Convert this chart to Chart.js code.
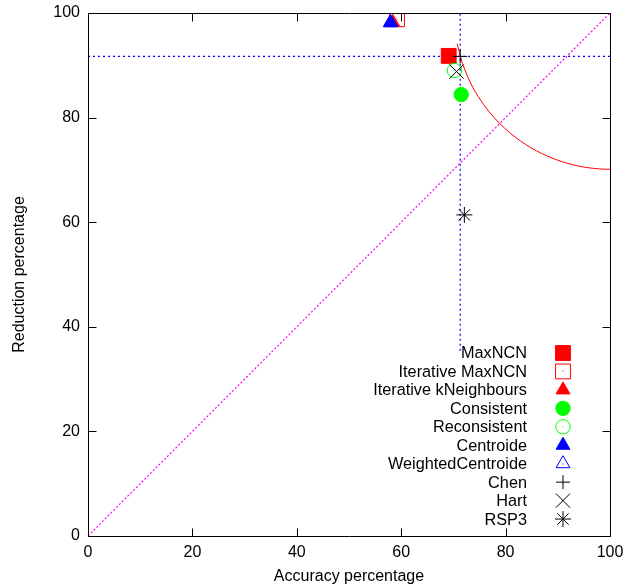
<!DOCTYPE html>
<html>
<head>
<meta charset="utf-8">
<script src="https://cdn.jsdelivr.net/npm/chart.js@4/dist/chart.umd.min.js"></script>
<style>
  html, body { margin: 0; padding: 0; background: #ffffff; }
  #wrap { width: 628px; height: 587px; }
</style>
</head>
<body>
<div id="wrap"><canvas id="chart" width="628" height="587"></canvas></div>
<script>
// Instance-selection methods: accuracy vs. reduction (%)
const methods = ['MaxNCN', 'Iterative MaxNCN', 'Iterative kNeighbours', 'Consistent', 'Reconsistent',
                 'Centroide', 'WeightedCentroide', 'Chen', 'Hart', 'RSP3'];
const accuracy  = [69.1, 59.2, 58.4, 71.5, 70.2, 57.9, 58.0, 71.3, 70.6, 72.1];
const reduction = [91.8, 98.8, 98.2, 84.4, 89.0, 98.15, 98.15, 91.7, 88.8, 61.4];

const xTicks = [0, 20, 40, 60, 80, 100];
const yTicks = [0, 20, 40, 60, 80, 100];

// Reference point for the guide lines (Chen) and the ideal corner
const refIndex = 7;
const ideal = [100, 100];
const vLineBottom = 35.4;

// Marker appearance per method
const markerColor = ['#ff0000', '#ff0000', '#ff0000', '#00ff00', '#00ff00', '#0000ff', '#0000ff', '#000000', '#000000', '#000000'];
const markerShape = ['rect', 'rect', 'triangle', 'circle', 'circle', 'triangle', 'triangle', 'cross', 'crossRot', 'star'];
const markerFilled = [true, false, true, true, false, true, false, false, false, false];
const markerSize = [10.5, 10.5, 8, 7.2, 7.2, 8, 8, 7, 10, 8];

const FONT = '"Liberation Sans", Arial, Helvetica, sans-serif';

// Circle around the ideal corner through the reference point, sampled like a function plot
const refX = accuracy[refIndex], refY = reduction[refIndex];
const radius = Math.hypot(ideal[0] - refX, ideal[1] - refY);
const arcPts = [];
for (let i = 0; i < 100; i++) {
  const x = i * 100 / 99;
  const d = radius * radius - (ideal[0] - x) * (ideal[0] - x);
  if (d >= 0) arcPts.push({ x: x, y: ideal[1] - Math.sqrt(d) });
}

const pointSets = methods.map((name, i) => ({
  type: 'scatter',
  label: name,
  data: [{ x: accuracy[i], y: reduction[i] }],
  pointStyle: markerShape[i],
  pointRadius: markerSize[i],
  pointHoverRadius: markerSize[i],
  pointBorderWidth: 1,
  borderColor: markerColor[i],
  backgroundColor: markerFilled[i] ? markerColor[i] : 'rgba(0,0,0,0)',
  centerDot: !markerFilled[i] && (markerShape[i] === 'rect' || markerShape[i] === 'circle' || markerShape[i] === 'triangle'),
  clip: 0,
  order: 20 - i
}));

const lineSets = [
  { // diagonal accuracy = reduction
    type: 'line', label: '_diag', data: [{ x: 0, y: 0 }, { x: 100, y: 100 }],
    borderColor: '#ff00ff', borderWidth: 1.2, borderDash: [2, 2], pointRadius: 0, order: 40, clip: 0
  },
  { // horizontal guide
    type: 'line', label: '_h', data: [{ x: 0, y: refY }, { x: 100, y: refY }],
    borderColor: '#0000ff', borderWidth: 1.2, borderDash: [2, 3], pointRadius: 0, order: 39, clip: 0
  },
  { // vertical guide
    type: 'line', label: '_v', data: [{ x: refX, y: vLineBottom }, { x: refX, y: 100 }],
    borderColor: '#0000ff', borderWidth: 1.2, borderDash: [2, 3], pointRadius: 0, order: 38, clip: 0
  },
  { // arc around the ideal corner
    type: 'line', label: '_arc', data: arcPts,
    borderColor: '#ff0000', borderWidth: 1, pointRadius: 0, tension: 0, order: 37, clip: 0
  }
];

function drawMarker(ctx, style, x, y, r, color, filled) {
  ctx.save();
  ctx.strokeStyle = color;
  ctx.fillStyle = filled ? color : 'rgba(0,0,0,0)';
  ctx.lineWidth = 1;
  if (Chart.helpers && Chart.helpers.drawPoint) {
    Chart.helpers.drawPoint(ctx, { pointStyle: style, rotation: 0, borderWidth: 1, radius: r }, x, y);
  }
  ctx.restore();
}

const framePlugin = {
  id: 'frame',
  afterDatasetsDraw(chart) {
    const ctx = chart.ctx;
    const a = chart.chartArea;
    const xs = chart.scales.x, ys = chart.scales.y;
    // centre dots of open markers
    chart.data.datasets.forEach((ds, i) => {
      if (!ds.centerDot) return;
      const meta = chart.getDatasetMeta(i);
      meta.data.forEach(p => {
        if (p.y < a.top || p.y > a.bottom) return;
        ctx.fillStyle = ds.borderColor;
        ctx.fillRect(Math.round(p.x) - 0.5, Math.round(p.y) - 0.5, 1, 1);
      });
    });
    // frame and inward ticks on all four sides
    ctx.save();
    ctx.strokeStyle = '#000000';
    ctx.lineWidth = 1;
    ctx.beginPath();
    const L = Math.round(a.left) + 0.5, R = Math.round(a.right) + 0.5;
    const T = Math.round(a.top) + 0.5, B = Math.round(a.bottom) + 0.5;
    ctx.rect(L, T, R - L, B - T);
    const tl = 8;
    xTicks.forEach(v => {
      const px = Math.round(xs.getPixelForValue(v)) + 0.5;
      ctx.moveTo(px, B); ctx.lineTo(px, B - tl);
      ctx.moveTo(px, T); ctx.lineTo(px, T + tl);
    });
    yTicks.forEach(v => {
      const py = Math.round(ys.getPixelForValue(v)) + 0.5;
      ctx.moveTo(L, py); ctx.lineTo(L + tl, py);
      ctx.moveTo(R, py); ctx.lineTo(R - tl, py);
    });
    ctx.stroke();
    ctx.restore();

    // key: right-aligned labels with sample markers
    const textRight = 527, markX = 563, firstY = 353, step = 18.45;
    ctx.save();
    ctx.font = '16.3px ' + FONT;
    ctx.textAlign = 'right';
    ctx.textBaseline = 'middle';
    methods.forEach((name, i) => {
      const y = firstY + i * step;
      ctx.fillStyle = '#000000';
      ctx.fillText(name, textRight, y + 1);
      drawMarker(ctx, markerShape[i], markX, y, markerSize[i], markerColor[i], markerFilled[i]);
      if (pointSets[i].centerDot) {
        ctx.fillStyle = markerColor[i];
        ctx.fillRect(markX - 0.5, Math.round(y) - 0.5, 1, 1);
      }
    });
    ctx.restore();
  }
};

new Chart(document.getElementById('chart'), {
  type: 'scatter',
  data: { datasets: lineSets.concat(pointSets) },
  options: {
    responsive: false,
    animation: false,
    events: [],
    layout: { padding: { top: 13, right: 18, left: 0, bottom: 0 } },
    plugins: { legend: { display: false }, tooltip: { enabled: false } },
    scales: {
      x: {
        type: 'linear', min: 0, max: 100,
        afterFit(scale) { scale.height = 51; scale.paddingLeft = 0; scale.paddingRight = 0; },
        afterBuildTicks(scale) { scale.ticks = xTicks.map(v => ({ value: v })); },
        grid: { display: false, drawTicks: false },
        border: { display: false },
        ticks: { color: '#000000', font: { family: FONT, size: 16 }, padding: 7, maxRotation: 0 },
        title: { display: true, text: 'Accuracy percentage', color: '#000000',
                 font: { family: FONT, size: 16 }, padding: { top: 0, bottom: 1 } }
      },
      y: {
        type: 'linear', min: 0, max: 100,
        afterFit(scale) { scale.width = 88; scale.paddingTop = 0; scale.paddingBottom = 0; },
        afterBuildTicks(scale) { scale.ticks = yTicks.map(v => ({ value: v })); },
        grid: { display: false, drawTicks: false },
        border: { display: false },
        ticks: { color: '#000000', font: { family: FONT, size: 16 }, padding: 8 },
        title: { display: true, text: 'Reduction percentage', color: '#000000',
                 font: { family: FONT, size: 16 }, padding: { top: 10, bottom: 0 } }
      }
    }
  },
  plugins: [framePlugin]
});
</script>
</body>
</html>
